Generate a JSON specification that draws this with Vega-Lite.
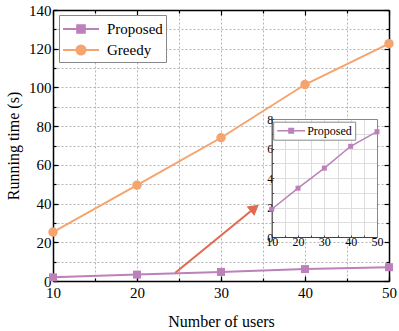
{
  "$schema": "https://vega.github.io/schema/vega-lite/v6.json",
  "padding": {"left": 5, "top": 3, "right": 0, "bottom": 0},
  "background": "white",
  "datasets": {
    "main": [
      {"users": 10, "series": "Proposed", "time": 1.88},
      {"users": 20, "series": "Proposed", "time": 3.31},
      {"users": 30, "series": "Proposed", "time": 4.67},
      {"users": 40, "series": "Proposed", "time": 6.15},
      {"users": 50, "series": "Proposed", "time": 7.14},
      {"users": 10, "series": "Greedy", "time": 25.3},
      {"users": 20, "series": "Greedy", "time": 49.5},
      {"users": 30, "series": "Greedy", "time": 74.0},
      {"users": 40, "series": "Greedy", "time": 101.5},
      {"users": 50, "series": "Greedy", "time": 122.6}
    ],
    "arrow": [
      {"x": 24.56, "y": 4.3, "x2": 34.0, "y2": 37.7}
    ]
  },
  "hconcat": [
    {
      "width": 336,
      "height": 271,
      "data": {"name": "main"},
      "layer": [
        {
          "mark": {"type": "point", "opacity": 0},
          "encoding": {
            "x": {"field": "users", "type": "quantitative", "scale": {"domain": [10, 50], "nice": false, "zero": false},
              "axis": {"orient": "bottom", "values": [10, 15, 20, 25, 30, 35, 40, 45, 50], "grid": true, "gridDash": [2, 2], "gridColor": "#b4b4b4", "gridWidth": 1, "labels": false, "domain": false, "ticks": true, "tickSize": -3, "tickColor": "black", "tickWidth": 1.2, "title": null}},
            "y": {"field": "time", "type": "quantitative", "scale": {"domain": [0, 140], "nice": false, "zero": false},
              "axis": {"orient": "left", "values": [0, 10, 20, 30, 40, 50, 60, 70, 80, 90, 100, 110, 120, 130, 140], "grid": true, "gridDash": [2, 2], "gridColor": "#b4b4b4", "gridWidth": 1, "labels": false, "domain": false, "ticks": true, "tickSize": -3, "tickColor": "black", "tickWidth": 1.2, "title": null}}
          }
        },
        {
          "mark": {"type": "point", "opacity": 0},
          "encoding": {
            "x": {"field": "users", "type": "quantitative", "scale": {"domain": [10, 50], "nice": false, "zero": false},
              "axis": {"orient": "top", "values": [15, 25, 35, 45], "grid": false, "labels": false, "domain": false, "ticks": true, "tickSize": -3, "tickColor": "black", "tickWidth": 1.2, "title": null}},
            "y": {"field": "time", "type": "quantitative", "scale": {"domain": [0, 140], "nice": false, "zero": false},
              "axis": {"orient": "right", "values": [10, 30, 50, 70, 90, 110, 130], "grid": false, "labels": false, "domain": false, "ticks": true, "tickSize": -3, "tickColor": "black", "tickWidth": 1.2, "title": null}}
          }
        },
        {
          "mark": {"type": "line", "strokeWidth": 2},
          "encoding": {
            "x": {"field": "users", "type": "quantitative", "scale": {"domain": [10, 50], "nice": false, "zero": false},
              "axis": {"orient": "bottom", "values": [10, 20, 30, 40, 50], "grid": false, "domain": true, "domainColor": "black", "domainWidth": 1.5, "ticks": true, "tickSize": -5, "tickColor": "black", "tickWidth": 1.2, "labelFont": "Liberation Serif", "labelFontSize": 15, "labelPadding": 9, "labelFlush": false, "title": "Number of users", "titleFont": "Liberation Serif", "titleFontSize": 16, "titlePadding": 13}},
            "y": {"field": "time", "type": "quantitative", "scale": {"domain": [0, 140], "nice": false, "zero": false},
              "axis": {"orient": "left", "values": [0, 20, 40, 60, 80, 100, 120, 140], "grid": false, "domain": true, "domainColor": "black", "domainWidth": 1.5, "ticks": true, "tickSize": -5, "tickColor": "black", "tickWidth": 1.2, "labelFont": "Liberation Serif", "labelFontSize": 15, "labelPadding": 7, "labelFlush": false, "title": "Running time (s)", "titleFont": "Liberation Serif", "titleFontSize": 16, "titlePadding": 7}},
            "color": {"field": "series", "type": "nominal",
              "scale": {"domain": ["Proposed", "Greedy"], "range": ["#BC80BA", "#F5A46E"]},
              "legend": {"orient": "none", "legendX": 6, "legendY": 5, "title": null, "fillColor": "white", "strokeColor": "#888888", "padding": 3, "labelFontSize": 15, "labelFont": "Liberation Serif", "labelColor": "black", "symbolSize": 400, "symbolStrokeWidth": 2, "symbolOffset": 8, "labelOffset": 15, "rowPadding": 2,
                "encode": {"symbols": {"update": {
                  "shape": {"signal": "datum.value === 'Proposed' ? 'M-1.8,0H1.8M-0.38,-0.38H0.38V0.38H-0.38Z' : 'M-1.8,0H1.8M0.45,0A0.45,0.45,0,1,1,-0.45,0A0.45,0.45,0,1,1,0.45,0Z'"},
                  "fill": {"signal": "datum.value === 'Proposed' ? '#BC80BA' : '#F5A46E'"},
                  "stroke": {"signal": "datum.value === 'Proposed' ? '#BC80BA' : '#F5A46E'"},
                  "opacity": {"value": 1},
                  "fillOpacity": {"value": 1}
                }}}}}
          }
        },
        {
          "transform": [{"filter": "datum.series === 'Greedy'"}],
          "mark": {"type": "point", "shape": "circle", "filled": true, "opacity": 1, "size": 90, "color": "#F5A46E"},
          "encoding": {
            "x": {"field": "users", "type": "quantitative", "scale": {"domain": [10, 50], "nice": false, "zero": false},
              "axis": {"orient": "top", "values": [10, 20, 30, 40, 50], "grid": false, "labels": false, "domain": true, "domainColor": "black", "domainWidth": 1.5, "ticks": true, "tickSize": -5, "tickColor": "black", "tickWidth": 1.2, "title": null}},
            "y": {"field": "time", "type": "quantitative", "scale": {"domain": [0, 140], "nice": false, "zero": false},
              "axis": {"orient": "right", "values": [0, 20, 40, 60, 80, 100, 120, 140], "grid": false, "labels": false, "domain": true, "domainColor": "black", "domainWidth": 1.5, "ticks": true, "tickSize": -5, "tickColor": "black", "tickWidth": 1.2, "title": null}}
          }
        },
        {
          "transform": [{"filter": "datum.series === 'Proposed'"}],
          "mark": {"type": "point", "shape": "square", "filled": true, "opacity": 1, "size": 64, "color": "#BC80BA"},
          "encoding": {
            "x": {"field": "users", "type": "quantitative", "scale": {"domain": [10, 50], "nice": false, "zero": false}, "axis": null},
            "y": {"field": "time", "type": "quantitative", "scale": {"domain": [0, 140], "nice": false, "zero": false}, "axis": null}
          }
        },
        {
          "data": {"name": "arrow"},
          "mark": {"type": "rule", "color": "#E2694F", "strokeWidth": 2},
          "encoding": {
            "x": {"field": "x", "type": "quantitative", "scale": {"domain": [10, 50], "nice": false, "zero": false}, "axis": null},
            "y": {"field": "y", "type": "quantitative", "scale": {"domain": [0, 140], "nice": false, "zero": false}, "axis": null},
            "x2": {"field": "x2"},
            "y2": {"field": "y2"}
          }
        },
        {
          "data": {"name": "arrow"},
          "mark": {"type": "point", "shape": "triangle-up", "filled": true, "color": "#E2694F", "opacity": 1, "size": 150, "angle": 51},
          "encoding": {
            "x": {"field": "x2", "type": "quantitative", "scale": {"domain": [10, 50], "nice": false, "zero": false}, "axis": null},
            "y": {"field": "y2", "type": "quantitative", "scale": {"domain": [0, 140], "nice": false, "zero": false}, "axis": null}
          }
        }
      ],
      "resolve": {"axis": {"x": "independent", "y": "independent"}}
    },
    {
      "width": 1,
      "height": 227,
      "data": {"name": "main"},
      "transform": [{"filter": "datum.series === 'Proposed'"}],
      "layer": [
        {
          "mark": {"type": "point", "opacity": 0},
          "encoding": {
            "x": {"field": "users", "type": "quantitative", "scale": {"domain": [10, 50], "nice": false, "zero": false, "range": [-117.3, -12]},
              "axis": {"orient": "top", "values": [30], "grid": true, "gridColor": "white", "gridWidth": 106, "gridCap": "butt", "labels": false, "ticks": false, "domain": false, "title": null}},
            "y": {"field": "time", "type": "quantitative", "scale": {"domain": [0, 8], "nice": false, "zero": false, "range": [227, 109]}, "axis": null}
          }
        },
        {
          "mark": {"type": "line", "strokeWidth": 1.5},
          "encoding": {
            "x": {"field": "users", "type": "quantitative", "scale": {"domain": [10, 50], "nice": false, "zero": false, "range": [-117.3, -12]},
              "axis": {"orient": "top", "values": [15, 20, 25, 30, 35, 40, 45], "grid": true, "gridColor": "#dddddd", "gridWidth": 1, "labels": false, "ticks": false, "domain": false, "title": null}},
            "y": {"field": "time", "type": "quantitative", "scale": {"domain": [0, 8], "nice": false, "zero": false, "range": [227, 109]},
              "axis": {"orient": "left", "offset": 117.3, "values": [0, 1, 2, 3, 4, 5, 6, 7, 8], "labelExpr": "datum.value % 2 ? '' : datum.label", "grid": true, "gridColor": "#dddddd", "gridWidth": 1, "domain": true, "domainColor": "#444444", "domainWidth": 1.2, "ticks": true, "tickSize": -2, "tickColor": "#444444", "tickWidth": 1, "labelFont": "Liberation Serif", "labelFontSize": 12, "labelPadding": 1, "labelFlush": false, "title": null}},
            "color": {"field": "series", "type": "nominal",
              "scale": {"domain": ["Proposed"], "range": ["#BC80BA"]},
              "legend": {"orient": "none", "legendX": -115.8, "legendY": 111.7, "title": null, "fillColor": "white", "strokeColor": "#888888", "padding": 3, "labelFontSize": 12, "labelFont": "Liberation Serif", "labelColor": "black", "symbolSize": 100, "symbolStrokeWidth": 1.5, "symbolOffset": 9, "labelOffset": 10,
                "encode": {"symbols": {"update": {
                  "shape": {"value": "M-2.8,0H2.8M-0.45,-0.45H0.45V0.45H-0.45Z"},
                  "fill": {"value": "#BC80BA"},
                  "stroke": {"value": "#BC80BA"},
                  "opacity": {"value": 1},
                  "fillOpacity": {"value": 1}
                }}}}}
          }
        },
        {
          "mark": {"type": "point", "shape": "square", "filled": true, "opacity": 1, "size": 25, "color": "#BC80BA"},
          "encoding": {
            "x": {"field": "users", "type": "quantitative", "scale": {"domain": [10, 50], "nice": false, "zero": false, "range": [-117.3, -12]},
              "axis": {"orient": "bottom", "values": [10, 15, 20, 25, 30, 35, 40, 45, 50], "labelExpr": "datum.value % 10 ? '' : datum.label", "grid": false, "domain": true, "domainColor": "#444444", "domainWidth": 1.2, "ticks": true, "tickSize": -2, "tickColor": "#444444", "tickWidth": 1, "labelFont": "Liberation Serif", "labelFontSize": 12, "labelPadding": 1, "labelFlush": false, "title": null}},
            "y": {"field": "time", "type": "quantitative", "scale": {"domain": [0, 8], "nice": false, "zero": false, "range": [227, 109]},
              "axis": {"orient": "right", "offset": -13, "values": [0, 8], "grid": false, "labels": false, "ticks": false, "domain": true, "domainColor": "#888888", "domainWidth": 1, "title": null}}
          }
        },
        {
          "mark": {"type": "point", "opacity": 0},
          "encoding": {
            "x": {"field": "users", "type": "quantitative", "scale": {"domain": [10, 50], "nice": false, "zero": false, "range": [-117.3, -12]},
              "axis": {"orient": "top", "offset": -109, "values": [10, 50], "grid": false, "labels": false, "ticks": false, "domain": true, "domainColor": "#888888", "domainWidth": 1, "title": null}},
            "y": {"field": "time", "type": "quantitative", "scale": {"domain": [0, 8], "nice": false, "zero": false, "range": [227, 109]}, "axis": null}
          }
        }
      ],
      "resolve": {"axis": {"x": "independent", "y": "independent"}}
    }
  ],
  "spacing": 0,
  "bounds": "flush",
  "resolve": {"scale": {"color": "independent", "x": "independent", "y": "independent"}, "legend": {"color": "independent"}},
  "config": {
    "font": "Liberation Serif",
    "view": {"stroke": null},
    "axis": {"labelFont": "Liberation Serif", "titleFont": "Liberation Serif", "labelColor": "black", "titleColor": "black", "titleFontWeight": "normal"},
    "legend": {"labelFont": "Liberation Serif"}
  }
}
